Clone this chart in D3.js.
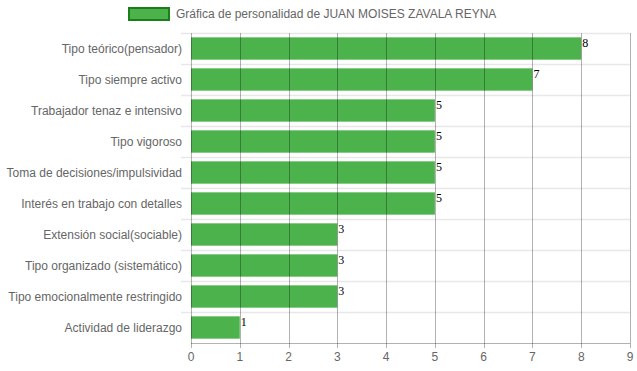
<!DOCTYPE html>
<html>
<head>
<meta charset="utf-8">
<script src="https://cdn.jsdelivr.net/npm/d3@7"></script>
<style>
  body { margin: 0; background: #fff; }
  svg text { font-family: "Liberation Sans", Arial, sans-serif; }
</style>
</head>
<body>
<div id="chart"></div>
<script>
var categories = [
  'Tipo teórico(pensador)',
  'Tipo siempre activo',
  'Trabajador tenaz e intensivo',
  'Tipo vigoroso',
  'Toma de decisiones/impulsividad',
  'Interés en trabajo con detalles',
  'Extensión social(sociable)',
  'Tipo organizado (sistemático)',
  'Tipo emocionalmente restringido',
  'Actividad de liderazgo'
];
var values = [8, 7, 5, 5, 5, 5, 3, 3, 3, 1];
var xTicks = [0, 1, 2, 3, 4, 5, 6, 7, 8, 9];
var seriesName = 'Gráfica de personalidad de JUAN MOISES ZAVALA REYNA';

var width = 637, height = 371;
var plotLeft = 191, plotRight = 630, plotTop = 33, plotBottom = 343;

var svg = d3.select('#chart').append('svg')
  .attr('width', width)
  .attr('height', height);

var x = d3.scaleLinear().domain([0, 9]).range([plotLeft, plotRight]);
var y = d3.scaleBand().domain(categories).range([plotTop, plotBottom]).paddingInner(0).paddingOuter(0);
var barH = y.bandwidth() * 0.72;

// horizontal grid (category boundaries)
var hLines = d3.range(categories.length).map(function (i) { return plotTop + i * y.bandwidth(); });
svg.selectAll('line.hgrid').data(hLines)
  .enter().append('line')
  .attr('x1', plotLeft - 10).attr('x2', plotRight)
  .attr('y1', function (d) { return Math.round(d) + 0.5; })
  .attr('y2', function (d) { return Math.round(d) + 0.5; })
  .attr('stroke', '#e8e8e8')
  .attr('stroke-width', 1.5);

// bars
svg.selectAll('rect.bar').data(values)
  .enter().append('rect')
  .attr('x', x(0))
  .attr('y', function (d, i) { return y(categories[i]) + (y.bandwidth() - barH) / 2; })
  .attr('width', function (d) { return x(d) - x(0); })
  .attr('height', barH)
  .attr('fill', '#4cb34c');

// vertical grid, drawn on top so it shows through bars
svg.selectAll('line.vgrid').data(xTicks)
  .enter().append('line')
  .attr('x1', function (d) { return Math.round(x(d)) + 0.5; })
  .attr('x2', function (d) { return Math.round(x(d)) + 0.5; })
  .attr('y1', plotTop).attr('y2', plotBottom + 5)
  .attr('stroke', 'rgba(0,0,0,0.3)')
  .attr('stroke-width', 1);

// bottom axis line
svg.append('line')
  .attr('x1', plotLeft).attr('x2', plotRight)
  .attr('y1', plotBottom + 0.5).attr('y2', plotBottom + 0.5)
  .attr('stroke', 'rgba(0,0,0,0.3)');

// x tick labels
svg.selectAll('text.xt').data(xTicks)
  .enter().append('text')
  .attr('x', function (d) { return x(d); })
  .attr('y', plotBottom + 18)
  .attr('text-anchor', 'middle')
  .attr('font-size', 12)
  .attr('fill', '#666')
  .text(function (d) { return d; });

// category labels
svg.selectAll('text.cat').data(categories)
  .enter().append('text')
  .attr('x', plotLeft - 9)
  .attr('y', function (d) { return y(d) + y.bandwidth() / 2; })
  .attr('dy', '0.35em')
  .attr('text-anchor', 'end')
  .attr('font-size', 12)
  .attr('fill', '#666')
  .text(function (d) { return d; });

// value labels
svg.selectAll('text.val').data(values)
  .enter().append('text')
  .attr('x', function (d) { return x(d) + 1; })
  .attr('y', function (d, i) { return y(categories[i]) + (y.bandwidth() - barH) / 2 + 10; })
  .style('font-family', '"Liberation Serif", "Times New Roman", serif')
  .attr('font-size', 12)
  .attr('fill', '#000')
  .text(function (d) { return d; });

// legend
svg.append('rect')
  .attr('x', 129).attr('y', 8)
  .attr('width', 40).attr('height', 12)
  .attr('fill', '#4cb34c')
  .attr('stroke', '#1a7f1a')
  .attr('stroke-width', 2);
svg.append('text')
  .attr('x', 176).attr('y', 14)
  .attr('dy', '0.35em')
  .attr('font-size', 12)
  .attr('fill', '#666')
  .text(seriesName);
</script>
</body>
</html>
